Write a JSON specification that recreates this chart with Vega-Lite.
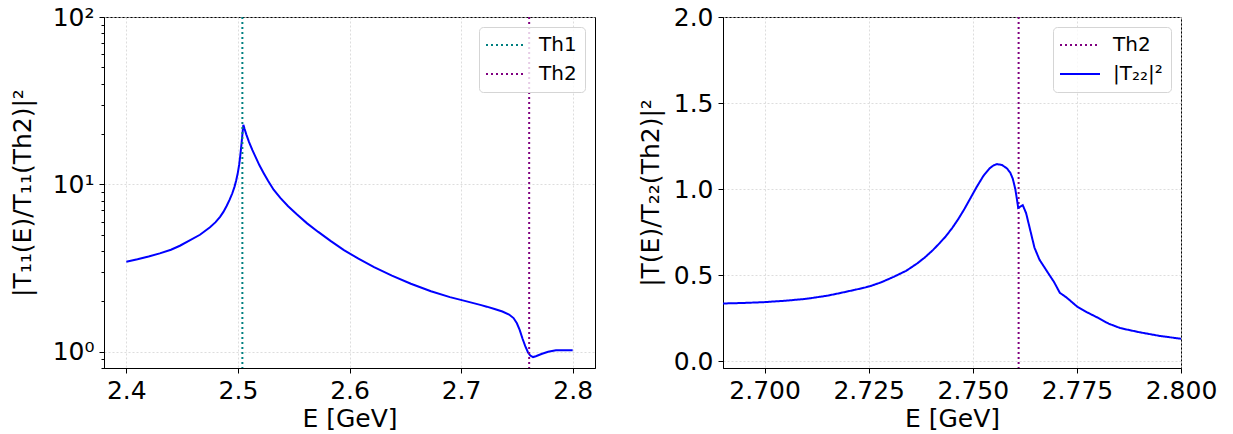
{
  "$schema": "https://vega.github.io/schema/vega-lite/v6.json",
  "padding": {"left": 9, "top": 4, "right": 5, "bottom": 2},
  "background": "white",
  "datasets": {
    "left": [
      {"E": 2.400, "v": 3.45}, {"E": 2.410, "v": 3.57}, {"E": 2.420, "v": 3.71}, {"E": 2.430, "v": 3.87},
      {"E": 2.440, "v": 4.07}, {"E": 2.448, "v": 4.30}, {"E": 2.456, "v": 4.60}, {"E": 2.466, "v": 5.00},
      {"E": 2.475, "v": 5.55}, {"E": 2.480, "v": 5.95}, {"E": 2.484, "v": 6.40}, {"E": 2.487, "v": 6.85},
      {"E": 2.490, "v": 7.45}, {"E": 2.4926, "v": 8.10}, {"E": 2.4950, "v": 8.85}, {"E": 2.4970, "v": 9.70},
      {"E": 2.4985, "v": 10.6}, {"E": 2.5000, "v": 11.8}, {"E": 2.5012, "v": 13.2}, {"E": 2.5022, "v": 15.0},
      {"E": 2.5032, "v": 17.4}, {"E": 2.5040, "v": 19.8}, {"E": 2.5045, "v": 21.5}, {"E": 2.5049, "v": 22.7},
      {"E": 2.5060, "v": 21.4}, {"E": 2.5075, "v": 19.9}, {"E": 2.5100, "v": 17.9}, {"E": 2.5130, "v": 16.0},
      {"E": 2.5160, "v": 14.5}, {"E": 2.5193, "v": 13.0}, {"E": 2.5230, "v": 11.7}, {"E": 2.5270, "v": 10.5},
      {"E": 2.5320, "v": 9.3}, {"E": 2.5380, "v": 8.3}, {"E": 2.5450, "v": 7.4}, {"E": 2.5530, "v": 6.6},
      {"E": 2.5620, "v": 5.85}, {"E": 2.5720, "v": 5.2}, {"E": 2.5830, "v": 4.6}, {"E": 2.5950, "v": 4.05},
      {"E": 2.6080, "v": 3.6}, {"E": 2.6220, "v": 3.2}, {"E": 2.6380, "v": 2.85}, {"E": 2.6550, "v": 2.55},
      {"E": 2.6730, "v": 2.3}, {"E": 2.6900, "v": 2.12}, {"E": 2.7050, "v": 2.0}, {"E": 2.7180, "v": 1.9},
      {"E": 2.7230, "v": 1.86}, {"E": 2.7300, "v": 1.8}, {"E": 2.7370, "v": 1.74}, {"E": 2.7430, "v": 1.67},
      {"E": 2.7470, "v": 1.59}, {"E": 2.7500, "v": 1.48}, {"E": 2.7525, "v": 1.35}, {"E": 2.7550, "v": 1.2},
      {"E": 2.7575, "v": 1.08}, {"E": 2.7600, "v": 0.99}, {"E": 2.7620, "v": 0.95}, {"E": 2.7645, "v": 0.93},
      {"E": 2.7670, "v": 0.94}, {"E": 2.7720, "v": 0.97}, {"E": 2.7780, "v": 1.0}, {"E": 2.7850, "v": 1.02},
      {"E": 2.7920, "v": 1.02}, {"E": 2.8000, "v": 1.02}
    ],
    "right": [
      {"E": 2.690, "v": 0.335}, {"E": 2.695, "v": 0.338}, {"E": 2.700, "v": 0.343}, {"E": 2.705, "v": 0.351},
      {"E": 2.710, "v": 0.362}, {"E": 2.715, "v": 0.380}, {"E": 2.719, "v": 0.400}, {"E": 2.7216, "v": 0.414},
      {"E": 2.724, "v": 0.427}, {"E": 2.7254, "v": 0.436}, {"E": 2.728, "v": 0.458}, {"E": 2.731, "v": 0.49},
      {"E": 2.734, "v": 0.525}, {"E": 2.7366, "v": 0.567}, {"E": 2.7385, "v": 0.603}, {"E": 2.7404, "v": 0.645},
      {"E": 2.742, "v": 0.685}, {"E": 2.7435, "v": 0.725}, {"E": 2.745, "v": 0.772}, {"E": 2.7465, "v": 0.825},
      {"E": 2.748, "v": 0.885}, {"E": 2.7495, "v": 0.95}, {"E": 2.751, "v": 1.015}, {"E": 2.7525, "v": 1.075},
      {"E": 2.754, "v": 1.12}, {"E": 2.755, "v": 1.138}, {"E": 2.7558, "v": 1.145}, {"E": 2.757, "v": 1.14},
      {"E": 2.7582, "v": 1.12}, {"E": 2.759, "v": 1.095}, {"E": 2.7596, "v": 1.06}, {"E": 2.7602, "v": 1.0},
      {"E": 2.7606, "v": 0.94}, {"E": 2.7609, "v": 0.89}, {"E": 2.7620, "v": 0.906}, {"E": 2.7628, "v": 0.86},
      {"E": 2.7634, "v": 0.80}, {"E": 2.7641, "v": 0.73}, {"E": 2.7648, "v": 0.66}, {"E": 2.766, "v": 0.59},
      {"E": 2.7676, "v": 0.53}, {"E": 2.7695, "v": 0.46}, {"E": 2.7709, "v": 0.397}, {"E": 2.7725, "v": 0.37},
      {"E": 2.775, "v": 0.318}, {"E": 2.7775, "v": 0.283}, {"E": 2.7798, "v": 0.255}, {"E": 2.7826, "v": 0.218},
      {"E": 2.7854, "v": 0.192}, {"E": 2.7873, "v": 0.182}, {"E": 2.790, "v": 0.168}, {"E": 2.795, "v": 0.146},
      {"E": 2.800, "v": 0.13}
    ],
    "minor": [
      {"t": 0.8}, {"t": 0.9}, {"t": 2}, {"t": 3}, {"t": 4}, {"t": 5}, {"t": 6}, {"t": 7}, {"t": 8}, {"t": 9},
      {"t": 20}, {"t": 30}, {"t": 40}, {"t": 50}, {"t": 60}, {"t": 70}, {"t": 80}, {"t": 90}
    ]
  },
  "bounds": "flush",
  "spacing": 128,
  "resolve": {
    "scale": {"color": "independent", "strokeDash": "independent"},
    "legend": {"color": "independent", "strokeDash": "independent"}
  },
  "hconcat": [
    {
      "width": 491,
      "height": 351,
      "layer": [
        {
          "data": {"name": "left"},
          "mark": {"type": "line", "color": "#0000ff", "strokeWidth": 2},
          "encoding": {
            "x": {"field": "E", "type": "quantitative",
              "scale": {"domain": [2.38, 2.82], "nice": false, "zero": false},
              "axis": {"title": "E [GeV]", "values": [2.4, 2.5, 2.6, 2.7, 2.8], "format": ".1f"}},
            "y": {"field": "v", "type": "quantitative",
              "scale": {"type": "log", "domain": [0.8, 100], "nice": false},
              "axis": {"title": "|T₁₁(E)/T₁₁(Th2)|²", "values": [1, 10, 100], "orient": "left",
                "labelExpr": "datum.value == 1 ? '10⁰' : datum.value == 10 ? '10¹' : '10²'",
                "minExtent": 55, "maxExtent": 55, "titlePadding": 14}}
          }
        },
        {
          "data": {"name": "minor"},
          "mark": {"type": "point", "opacity": 0},
          "encoding": {
            "y": {"field": "t", "type": "quantitative",
              "axis": {"title": null, "values": [0.8, 0.9, 2, 3, 4, 5, 6, 7, 8, 9, 20, 30, 40, 50, 60, 70, 80, 90],
                "orient": "left", "labels": false, "grid": false, "tickSize": 3, "domain": false}}
          }
        },
        {
          "data": {"values": [{"E": 2.504, "name": "Th1"}, {"E": 2.761, "name": "Th2"}]},
          "mark": {"type": "rule", "strokeWidth": 2},
          "encoding": {
            "x": {"field": "E", "type": "quantitative"},
            "color": {"field": "name", "type": "nominal",
              "scale": {"domain": ["Th1", "Th2"], "range": ["#008080", "#800080"]},
              "legend": {"title": null}},
            "strokeDash": {"field": "name", "type": "nominal",
              "scale": {"domain": ["Th1", "Th2"], "range": [[2, 3], [2, 3]]},
              "legend": {"title": null}}
          }
        }
      ],
      "resolve": {"axis": {"y": "independent"}}
    },
    {
      "width": 458,
      "height": 351,
      "layer": [
        {
          "data": {"values": [{"E": 2.761, "name": "Th2"}]},
          "mark": {"type": "rule", "strokeWidth": 2},
          "encoding": {
            "x": {"field": "E", "type": "quantitative",
              "scale": {"domain": [2.69, 2.8], "nice": false, "zero": false},
              "axis": {"title": "E [GeV]", "values": [2.7, 2.725, 2.75, 2.775, 2.8], "format": ".3f"}},
            "color": {"field": "name", "type": "nominal",
              "scale": {"domain": ["Th2", "|T₂₂|²"], "range": ["#800080", "#0000ff"]},
              "legend": {"title": null}},
            "strokeDash": {"field": "name", "type": "nominal",
              "scale": {"domain": ["Th2", "|T₂₂|²"], "range": [[2, 3], [1, 0]]},
              "legend": {"title": null}}
          }
        },
        {
          "data": {"name": "right"},
          "transform": [{"calculate": "'|T₂₂|²'", "as": "name"}],
          "mark": {"type": "line", "strokeWidth": 2},
          "encoding": {
            "x": {"field": "E", "type": "quantitative"},
            "y": {"field": "v", "type": "quantitative",
              "scale": {"domain": [-0.04, 2.0], "nice": false, "zero": false},
              "axis": {"title": "|T(E)/T₂₂(Th2)|²", "values": [0, 0.5, 1, 1.5, 2], "format": ".1f",
                "minExtent": 50, "maxExtent": 50, "titlePadding": 10}},
            "color": {"field": "name", "type": "nominal"},
            "strokeDash": {"field": "name", "type": "nominal"}
          }
        }
      ]
    }
  ],
  "config": {
    "font": "DejaVu Sans",
    "view": {"stroke": "black", "strokeWidth": 1},
    "axis": {
      "domainColor": "black", "tickColor": "black", "labelColor": "black", "titleColor": "black",
      "labelFont": "DejaVu Sans", "titleFont": "DejaVu Sans", "labelFontSize": 25, "titleFontSize": 25,
      "titleFontWeight": "normal", "tickSize": 5, "labelPadding": 5, "titlePadding": 3,
      "gridColor": "#d4d4d4", "gridDash": [2, 2], "gridWidth": 0.8, "labelFlush": false, "labelOverlap": false
    },
    "legend": {
      "orient": "top-right", "offset": 10, "labelFont": "DejaVu Sans", "labelFontSize": 20, "labelColor": "black",
      "symbolType": "M-4,0H4", "symbolSize": 100, "symbolOffset": 9, "symbolStrokeWidth": 2,
      "labelOffset": 23, "rowPadding": 9,
      "padding": 8, "cornerRadius": 4, "strokeColor": "#d5d5d5", "fillColor": "rgba(255,255,255,0.8)"
    }
  }
}
